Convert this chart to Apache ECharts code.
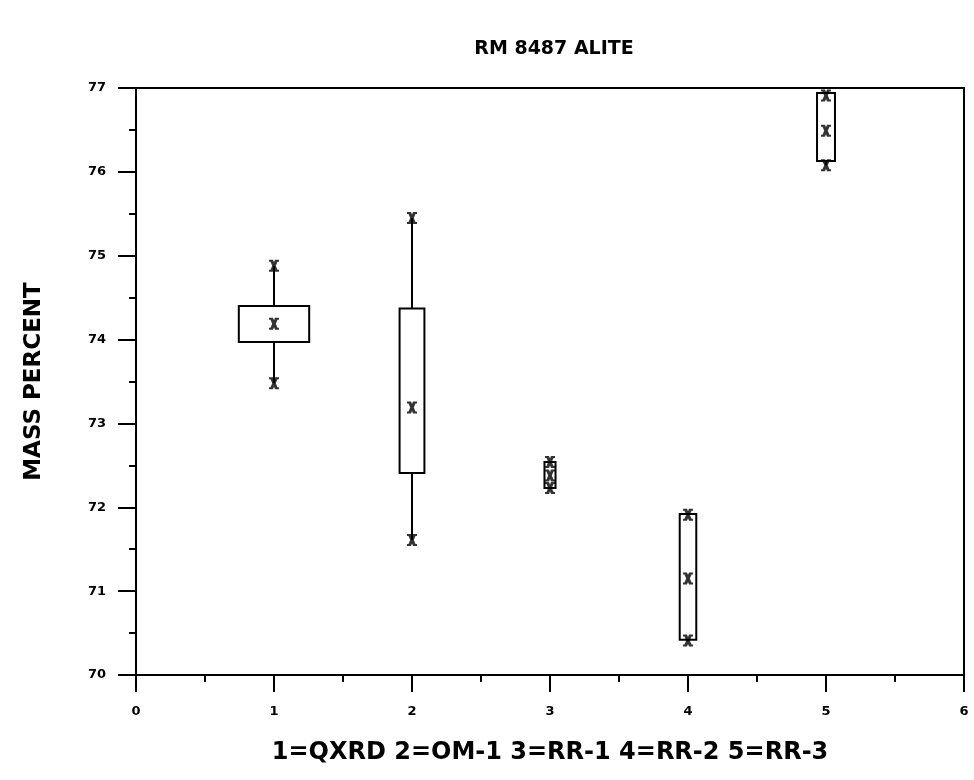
<!DOCTYPE html>
<html>
<head>
<meta charset="utf-8">
<script src="https://cdn.jsdelivr.net/npm/echarts@6/dist/echarts.min.js"></script>
<style>
  html, body { margin: 0; padding: 0; background: #fff; }
  #chart { width: 974px; height: 780px; }
</style>
</head>
<body>
<div id="chart"></div>
<script>
// box plot data
var groups  = [1, 2, 3, 4, 5];
var mins    = [73.48, 71.61, 72.23, 70.41, 76.08];
var q1s     = [73.97, 72.41, 72.23, 70.42, 76.13];
var medians = [74.19, 73.19, 72.38, 71.15, 76.49];
var q3s     = [74.40, 74.37, 72.54, 71.92, 76.94];
var maxs    = [74.88, 75.45, 72.54, 71.91, 76.91];
var halfWidths = [0.255, 0.09, 0.04, 0.06, 0.065]; // box half width in x units
var xTicks = [0, 1, 2, 3, 4, 5, 6];
var yTicks = [70, 71, 72, 73, 74, 75, 76, 77];

var myChart = echarts.init(document.getElementById('chart'));

var boxData = [], markData = [];
for (var i = 0; i < groups.length; i++) {
  boxData.push([groups[i], mins[i], q1s[i], medians[i], q3s[i], maxs[i], halfWidths[i]]);
  markData.push([groups[i], mins[i]]);
  markData.push([groups[i], medians[i]]);
  markData.push([groups[i], maxs[i]]);
}

var xPath = 'path://M0,0 L4,0 L5,2.5 L6,0 L10,0 L10,2 L8.5,2 L6.8,6 L8.5,10 L10,10 L10,12 L6,12 L5,9.5 L4,12 L0,12 L0,10 L1.5,10 L3.2,6 L1.5,2 L0,2 Z';

function renderBox(params, api) {
  var x = api.value(0);
  var hw = api.value(6);
  var pMin = api.coord([x, api.value(1)]);
  var pQ1 = api.coord([x, api.value(2)]);
  var pQ3 = api.coord([x, api.value(4)]);
  var pMax = api.coord([x, api.value(5)]);
  var left = api.coord([x - hw, api.value(4)]);
  var right = api.coord([x + hw, api.value(4)]);
  var st = { stroke: '#000', fill: 'none', lineWidth: 2 };
  var kids = [{
    type: 'rect',
    shape: { x: left[0], y: pQ3[1], width: right[0] - left[0], height: pQ1[1] - pQ3[1] },
    style: st
  }];
  if (pMax[1] < pQ3[1]) {
    kids.push({ type: 'line', shape: { x1: pMax[0], y1: pMax[1], x2: pQ3[0], y2: pQ3[1] }, style: st });
  }
  if (pMin[1] > pQ1[1]) {
    kids.push({ type: 'line', shape: { x1: pMin[0], y1: pMin[1], x2: pQ1[0], y2: pQ1[1] }, style: st });
  }
  return { type: 'group', children: kids };
}

var option = {
  animation: false,
  backgroundColor: '#fff',
  title: {
    text: 'RM 8487 ALITE',
    left: 549,
    top: 35,
    textAlign: 'center',
    textStyle: { fontFamily: 'DejaVu Sans', fontWeight: 'bold', fontSize: 19, color: '#000' }
  },
  grid: {
    left: 136, right: 10, top: 88, bottom: 105,
    show: true, borderColor: '#000', borderWidth: 2, backgroundColor: 'transparent'
  },
  xAxis: {
    type: 'value',
    min: xTicks[0], max: xTicks[xTicks.length - 1], interval: 1,
    name: '1=QXRD 2=OM-1 3=RR-1 4=RR-2 5=RR-3',
    nameLocation: 'middle', nameGap: 66,
    nameTextStyle: { fontFamily: 'DejaVu Sans', fontWeight: 'bold', fontSize: 24, color: '#000' },
    axisLine: { lineStyle: { color: '#000', width: 2 } },
    axisTick: { length: 17, lineStyle: { color: '#000', width: 2 } },
    minorTick: { show: true, splitNumber: 2, length: 7, lineStyle: { color: '#000', width: 2 } },
    axisLabel: { margin: 30, fontFamily: 'DejaVu Sans', fontSize: 13, fontWeight: 'bold', color: '#000' },
    splitLine: { show: false }
  },
  yAxis: {
    type: 'value',
    min: yTicks[0], max: yTicks[yTicks.length - 1], interval: 1,
    name: 'MASS PERCENT',
    nameLocation: 'middle', nameGap: 90,
    nameTextStyle: { fontFamily: 'DejaVu Sans', fontWeight: 'bold', fontSize: 23, color: '#000' },
    axisLine: { lineStyle: { color: '#000', width: 2 } },
    axisTick: { length: 18, lineStyle: { color: '#000', width: 2 } },
    minorTick: { show: true, splitNumber: 2, length: 7, lineStyle: { color: '#000', width: 2 } },
    axisLabel: { margin: 30, fontFamily: 'DejaVu Sans', fontSize: 13, fontWeight: 'bold', color: '#000' },
    splitLine: { show: false }
  },
  series: [
    {
      type: 'custom',
      renderItem: renderBox,
      data: boxData,
      encode: { x: 0, y: [1, 5] },
      z: 2
    },
    {
      type: 'scatter',
      data: markData,
      symbol: xPath,
      symbolSize: [10, 12],
      itemStyle: { color: '#000' },
      z: 3
    }
  ]
};

if (option && typeof option === "object") {
  myChart.setOption(option, true);
}
window.onresize = function () {
  myChart.resize();
};
</script>
</body>
</html>
